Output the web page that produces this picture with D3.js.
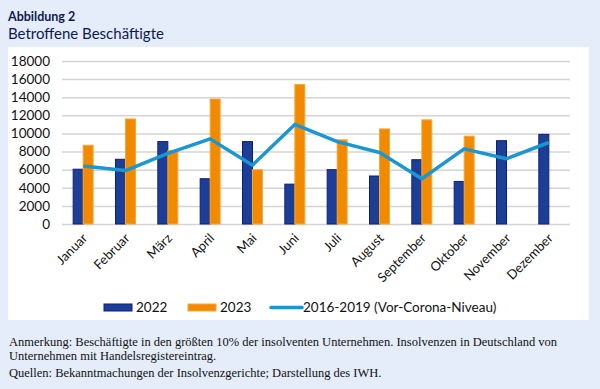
<!DOCTYPE html>
<html>
<head>
<meta charset="utf-8">
<script src="https://cdn.jsdelivr.net/npm/d3@7"></script>
<style>
  body { margin: 0; background: #e4edf9; }
  svg { display: block; }
  .tick text { font-family: Lato, sans-serif; fill: #111; }
</style>
</head>
<body>
<svg id="chart" width="600" height="389"></svg>
<script>
// data
var months = ["Januar", "Februar", "März", "April", "Mai", "Juni", "Juli",
  "August", "September", "Oktober", "November", "Dezember"];
var values2022 = [6050, 7150, 9100, 5000, 9100, 4400, 6000, 5300, 7100, 4700, 9200, 9900];
var values2023 = [8700, 11600, 8100, 13800, 6000, 15400, 9300, 10500, 11500, 9700, null, null];
var valuesPre = [6400, 5900, 7800, 9400, 6500, 11000, 9100, 7900, 5000, 8300, 7200, 9000];
var yTicks = [0, 2000, 4000, 6000, 8000, 10000, 12000, 14000, 16000, 18000];

var svg = d3.select("#chart");

// white panel
svg.append("rect")
  .attr("x", 8).attr("y", 47)
  .attr("width", 581).attr("height", 273)
  .attr("fill", "#fff");

// title
svg.append("text")
  .attr("x", 8).attr("y", 21)
  .attr("font-family", "Lato, sans-serif")
  .attr("font-weight", "bold")
  .attr("font-size", 12.5)
  .attr("fill", "#0d1a50")
  .text("Abbildung 2");
svg.append("text")
  .attr("x", 8).attr("y", 39)
  .attr("font-family", "Lato, sans-serif")
  .attr("font-size", 15)
  .attr("fill", "#0d1a50")
  .text("Betroffene Beschäftigte");

var x = d3.scaleBand().domain(months).range([62, 570]);
var y = d3.scaleLinear().domain([0, 18000]).range([224, 61]);
var xSub = d3.scaleBand().domain(["2022", "2023"]).range([-10, 10]);

// y axis with grid
var yAxis = svg.append("g")
  .attr("transform", "translate(62,0)")
  .call(d3.axisLeft(y).tickValues(yTicks).tickSize(-508).tickPadding(12).tickFormat(d3.format("d")));
yAxis.select(".domain").remove();
yAxis.selectAll(".tick line").attr("stroke", "#d4d4d4").attr("stroke-width", 1.5);
yAxis.selectAll(".tick text").attr("font-size", 13.5);

// x axis labels
var xAxis = svg.append("g")
  .attr("transform", "translate(0,224)")
  .call(d3.axisBottom(x).tickSize(0).tickPadding(0));
xAxis.select(".domain").remove();
xAxis.selectAll(".tick text")
  .attr("font-size", 13)
  .attr("text-anchor", "end")
  .attr("dy", 0)
  .attr("transform", "translate(5,15) rotate(-45)");

function center(m) { return x(m) + x.bandwidth() / 2; }

// bars 2022
svg.append("g").selectAll("rect")
  .data(months.map(function(m, i) { return { m: m, v: values2022[i] }; }))
  .enter().append("rect")
  .attr("x", function(d) { return center(d.m) + xSub("2022"); })
  .attr("y", function(d) { return y(d.v); })
  .attr("width", xSub.bandwidth())
  .attr("height", function(d) { return y(0) - y(d.v); })
  .attr("fill", "#1d3e96")
  .attr("stroke", "#0c1e7d")
  .attr("stroke-width", 1);

// bars 2023
svg.append("g").selectAll("rect")
  .data(months.map(function(m, i) { return { m: m, v: values2023[i] }; }).filter(function(d) { return d.v != null; }))
  .enter().append("rect")
  .attr("x", function(d) { return center(d.m) + xSub("2023"); })
  .attr("y", function(d) { return y(d.v); })
  .attr("width", xSub.bandwidth())
  .attr("height", function(d) { return y(0) - y(d.v); })
  .attr("fill", "#f28a00")
  .attr("stroke", "#f5a83a")
  .attr("stroke-width", 1);

// pre-corona line
var line = d3.line()
  .x(function(d, i) { return center(months[i]); })
  .y(function(d) { return y(d); });
svg.append("path")
  .datum(valuesPre)
  .attr("d", line)
  .attr("fill", "none")
  .attr("stroke", "#1a97d2")
  .attr("stroke-width", 3.5)
  .attr("stroke-linejoin", "round");

// legend
var legend = svg.append("g").attr("font-family", "Lato, sans-serif").attr("font-size", 13.5).attr("fill", "#111");
legend.append("rect").attr("x", 104).attr("y", 304).attr("width", 28).attr("height", 7)
  .attr("fill", "#1d3e96").attr("stroke", "#0c1e7d");
legend.append("text").attr("x", 136).attr("y", 312).text("2022");
legend.append("rect").attr("x", 188).attr("y", 304).attr("width", 28).attr("height", 7)
  .attr("fill", "#f28a00").attr("stroke", "#f5a83a");
legend.append("text").attr("x", 220).attr("y", 312).text("2023");
legend.append("line").attr("x1", 271).attr("x2", 302).attr("y1", 307.5).attr("y2", 307.5)
  .attr("stroke", "#1a97d2").attr("stroke-width", 3.5).attr("stroke-linecap", "round");
legend.append("text").attr("x", 303).attr("y", 312).text("2016-2019 (Vor-Corona-Niveau)");

// notes
var notes = svg.append("g").attr("font-family", "'Liberation Serif', serif").attr("font-size", 12.5).attr("fill", "#111");
notes.append("text").attr("x", 9).attr("y", 346)
  .text("Anmerkung: Beschäftigte in den größten 10% der insolventen Unternehmen. Insolvenzen in Deutschland von");
notes.append("text").attr("x", 9).attr("y", 360)
  .text("Unternehmen mit Handelsregistereintrag.");
notes.append("text").attr("x", 9).attr("y", 377)
  .text("Quellen: Bekanntmachungen der Insolvenzgerichte; Darstellung des IWH.");
</script>
</body>
</html>
